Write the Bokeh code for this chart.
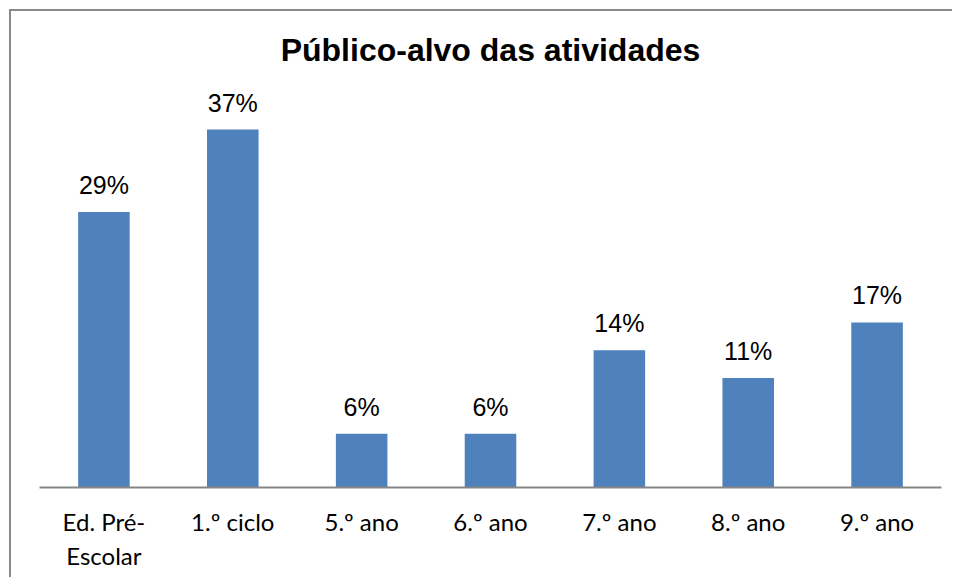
from bokeh.plotting import figure
from bokeh.models import ColumnDataSource, Range1d
from bokeh.core.properties import value
from bokeh.embed import file_html
from bokeh.resources import INLINE

categories = ["Ed. Pré-\nEscolar", "1.º ciclo", "5.º ano", "6.º ano", "7.º ano", "8.º ano", "9.º ano"]
values = [28.7, 37.3, 5.6, 5.6, 14.3, 11.4, 17.2]
labels = [f"{round(v)}%" for v in values]

source = ColumnDataSource(data=dict(cat=categories, val=values, lab=labels))

p = figure(
    x_range=categories,
    y_range=Range1d(0, 42.2),
    width=943, height=568,
    output_backend="svg", toolbar_location=None,
    min_border_left=28, min_border_right=13, min_border_top=71, min_border_bottom=92,
    title="Público-alvo das atividades",
)
p.styles = {"border-top": "2px solid #8a8a8a", "border-left": "2px solid #8a8a8a",
            "margin-left": "9px", "margin-top": "9px"}

p.vbar(x="cat", top="val", width=0.4, source=source, fill_color="#4F81BD", line_color=None)
p.text(x="cat", y="val", text="lab", source=source, text_align="center",
       text_baseline="alphabetic", y_offset=-27, text_font=value("Liberation Sans"),
       text_font_size="25px", text_color="black")

p.title.align = "center"
p.title.text_font = "Liberation Sans"
p.title.text_font_size = "32px"
p.title.text_font_style = "bold"
p.title.text_color = "black"
p.title.standoff = 30

p.yaxis.visible = False
p.xgrid.grid_line_color = None
p.ygrid.grid_line_color = None
p.outline_line_color = None

ax = p.xaxis[0]
ax.axis_line_color = "#868686"
ax.axis_line_width = 2
ax.major_tick_line_color = None
ax.minor_tick_line_color = None
ax.major_label_text_font = "Lato"
ax.major_label_text_font_size = "24px"
ax.major_label_text_color = "black"
ax.major_label_standoff = 13

open("out.html", "w").write(file_html(p, INLINE))
